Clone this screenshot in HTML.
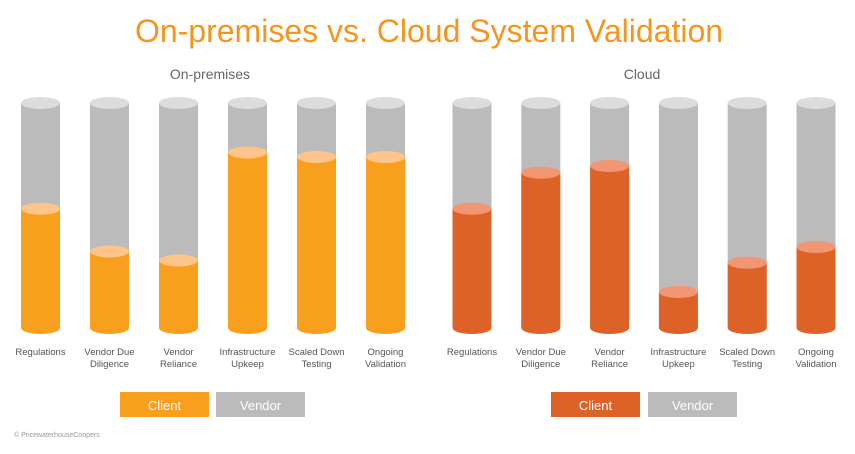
<!DOCTYPE html>
<html><head><meta charset="utf-8"><style>
body{margin:0;background:#fff;width:855px;height:449px;overflow:hidden;font-family:"Liberation Sans",sans-serif}
</style></head><body>
<svg id="c" width="855" height="449">
<text x="429" y="42" text-anchor="middle" font-size="32" fill="#f7941d">On-premises vs. Cloud System Validation</text>
<text x="210" y="79" text-anchor="middle" font-size="14" fill="#666">On-premises</text>
<text x="642" y="79" text-anchor="middle" font-size="14" fill="#666">Cloud</text>
<rect x="120" y="392" width="89" height="25" fill="#f99f1e"/>
<text x="164.5" y="410" text-anchor="middle" font-size="13" fill="#fff">Client</text>
<rect x="216" y="392" width="89" height="25" fill="#bbb"/>
<text x="260.5" y="410" text-anchor="middle" font-size="13" fill="#fff">Vendor</text>
<rect x="551" y="392" width="89" height="25" fill="#dd6227"/>
<text x="595.5" y="410" text-anchor="middle" font-size="13" fill="#fff">Client</text>
<rect x="648" y="392" width="89" height="25" fill="#bbb"/>
<text x="692.5" y="410" text-anchor="middle" font-size="13" fill="#fff">Vendor</text>
<text x="14" y="437" font-size="7" fill="#999">© PricewaterhouseCoopers</text>
</svg>
<script>
const categories=[["Regulations"],["Vendor Due","Diligence"],["Vendor","Reliance"],["Infrastructure","Upkeep"],["Scaled Down","Testing"],["Ongoing","Validation"]];
const onPremValues=[53,34,30,78,76,76];
const cloudValues=[53,69,72,16,29,36];
const svg=document.getElementById('c');
const NS='http://www.w3.org/2000/svg';
const yTop=103,yBot=328,rx=19.5,ry=6;
function y(v){return yBot-(yBot-yTop)*v/100;}
function mk(t,a){const e=document.createElementNS(NS,t);for(const k in a)e.setAttribute(k,a[k]);svg.appendChild(e);return e;}
function group(vals,x0,step,fill,topFill,pre){
 vals.forEach((v,i)=>{
  const cx=x0+i*step;
  let e=mk('rect',{x:cx-rx,y:yTop,width:rx*2,height:yBot-yTop,fill:'#bbb'});
  
  
  e=mk('ellipse',{cx:cx,cy:yTop,rx:rx,ry:ry,fill:'#dcdcdc'});
  
  
  const yv=y(v);
  e=mk('rect',{x:cx-rx,y:yv,width:rx*2,height:yBot-yv,fill:fill});
  
  
  e=mk('ellipse',{cx:cx,cy:yBot,rx:rx,ry:ry,fill:fill});
  
  
  e=mk('ellipse',{cx:cx,cy:yv,rx:rx,ry:ry,fill:topFill});
  
  
  const t=mk('text',{x:cx,y:355,'text-anchor':'middle','font-size':'9.5',fill:'#555'});
  
  
  categories[i].forEach((l,j)=>{const s=document.createElementNS(NS,'tspan');s.setAttribute('x',cx);s.setAttribute('dy',j?12:0);s.textContent=l;t.appendChild(s);});
 });
}
group(onPremValues,40.5,69,'#f99f1e','#fdc58a','onprem');
group(cloudValues,472,68.8,'#dd6227','#f29572','cloud');
</script>
</body></html>
